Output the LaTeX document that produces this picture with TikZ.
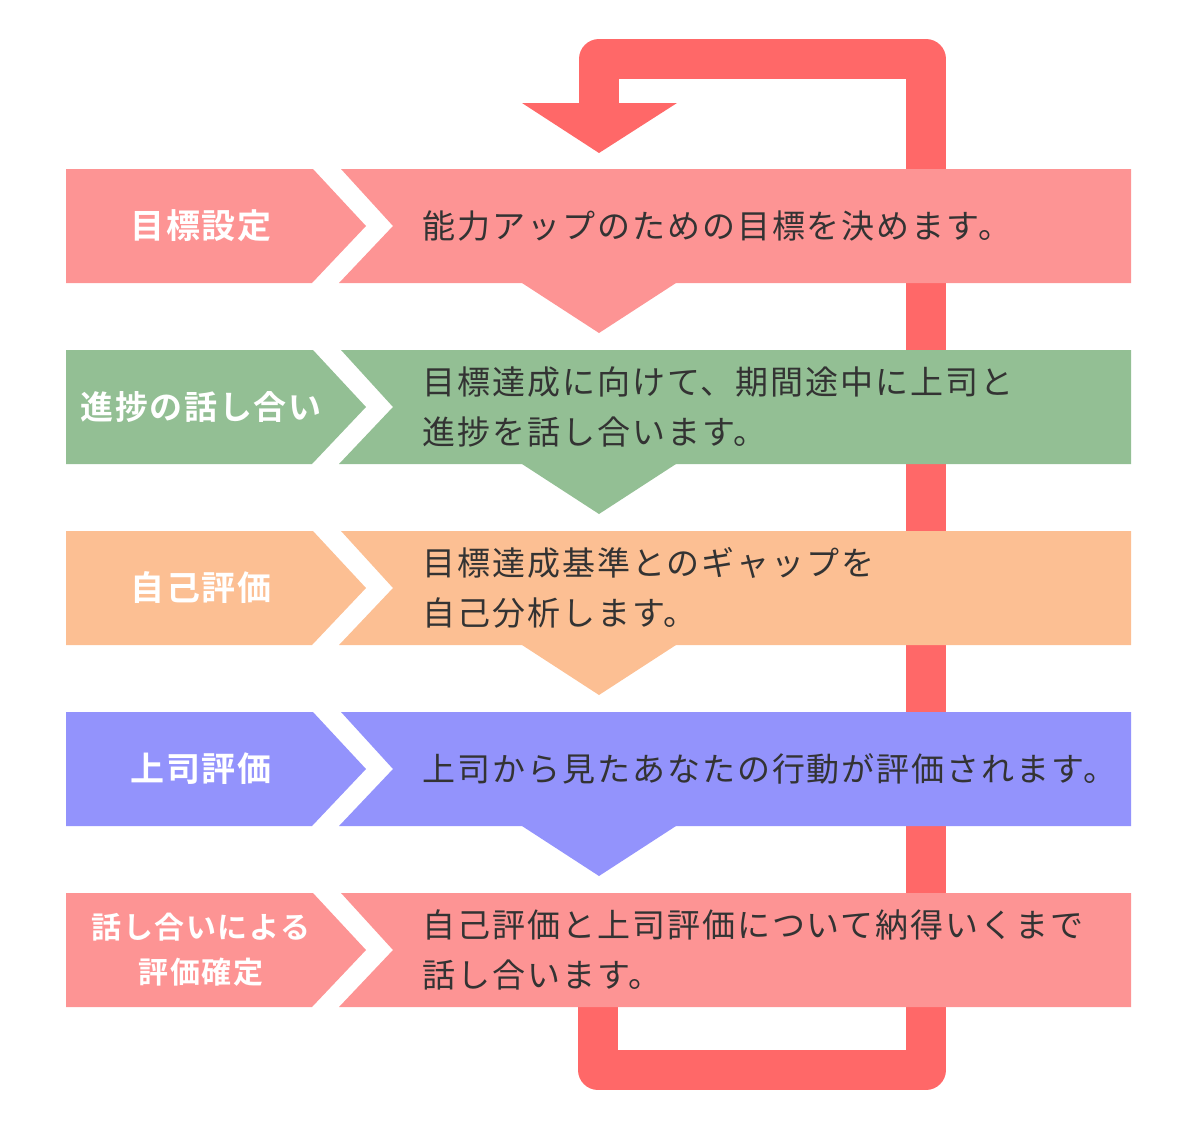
\documentclass[tikz,border=0pt]{standalone}
\usepackage{fontspec}
\newfontfamily\jp[LetterSpace=6]{Noto Sans CJK JP}
\newfontfamily\jpb[LetterSpace=5]{Noto Sans CJK JP Bold}
\definecolor{cpink}{RGB}{253,148,148}
\definecolor{cgreen}{RGB}{147,191,148}
\definecolor{corange}{RGB}{252,191,147}
\definecolor{cpurple}{RGB}{147,147,252}
\definecolor{cloop}{RGB}{255,104,104}
\definecolor{ctext}{RGB}{51,51,51}
\tikzset{
  lefttext/.style={text=white,align=center,inner sep=0pt},
  righttext/.style={text=ctext,font=\jp\fontsize{33}{50}\selectfont,align=left,anchor=west,inner sep=0pt},
  loopline/.style={draw=cloop,line width=40pt,line join=round}
}
\newcommand{\steprow}[6]{%
  % #1 top y, #2 color, #3 name, #4 left text, #5 right text, #6 left font size
  \fill[#2] (66,#1) -- (313,#1) -- (366,#1+57) -- (312,#1+114) -- (66,#1+114) -- cycle;
  \fill[#2] (341,#1) -- (1131,#1) -- (1131,#1+114) -- (339,#1+114) -- (393,#1+57) -- cycle;
  \node[lefttext,font=\jpb\fontsize{#6}{45}\selectfont] (#3l) at (201,#1+57) {#4};
  \node[righttext] (#3r) at (422,#1+57) {#5};
}
\newcommand{\steptri}[2]{%
  \fill[#2] (522,#1+114) -- (676,#1+114) -- (599,#1+164) -- cycle;
}
\begin{document}
\begin{tikzpicture}[x=1pt,y=-1pt]
\useasboundingbox (0,0) rectangle (1196,1130);
\coordinate (lstart) at (598,1000);
\coordinate (lb1) at (598,1070);
\coordinate (lb2) at (926,1070);
\coordinate (lt2) at (926,59);
\coordinate (lt1) at (599,59);
\coordinate (lend) at (599,104);
\draw[loopline] (lstart) -- (lb1) -- (lb2) -- (lt2) -- (lt1) -- (lend);
\fill[cloop] (522,103) -- (677,103) -- (599,153) -- cycle;
\steprow{169}{cpink}{s1}{目標設定}{能力アップのための目標を決めます。}{34}
\steptri{169}{cpink}
\steprow{350}{cgreen}{s2}{進捗の話し合い}{目標達成に向けて、期間途中に上司と\\進捗を話し合います。}{33}
\steptri{350}{cgreen}
\steprow{531}{corange}{s3}{自己評価}{目標達成基準とのギャップを\\自己分析します。}{34}
\steptri{531}{corange}
\steprow{712}{cpurple}{s4}{上司評価}{上司から見たあなたの行動が評価されます。}{34}
\steptri{712}{cpurple}
\steprow{893}{cpink}{s5}{話し合いによる\\評価確定}{自己評価と上司評価について納得いくまで\\話し合います。}{30}
\end{tikzpicture}
\end{document}
